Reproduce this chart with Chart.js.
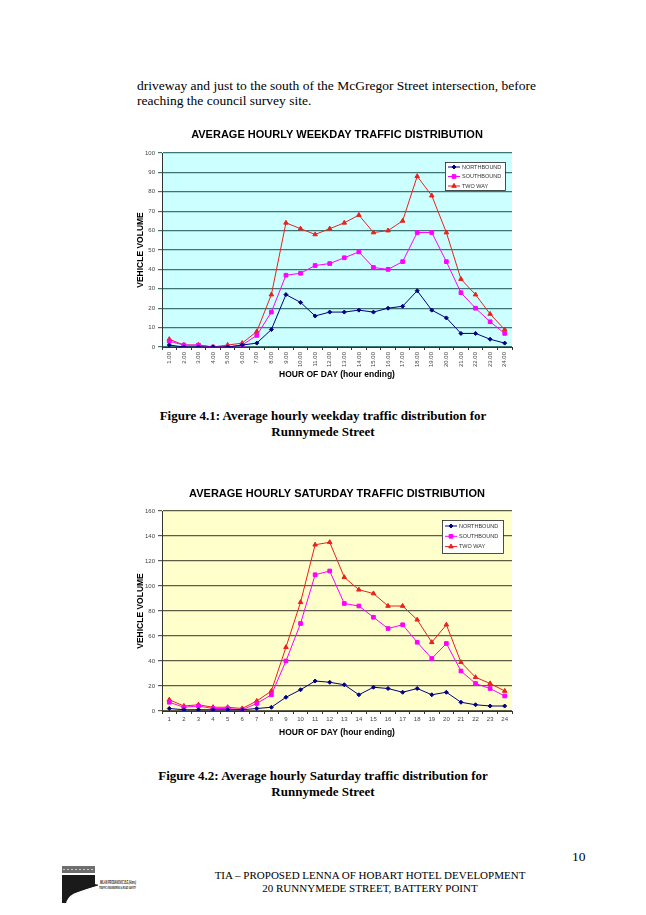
<!DOCTYPE html>
<html>
<head>
<meta charset="utf-8">
<script src="https://cdn.jsdelivr.net/npm/chart.js@4.4.0/dist/chart.umd.min.js"></script>
<style>
    body { margin: 0; background: #fff; }
    .page { position: relative; width: 646px; height: 915px; background: #fff; overflow: hidden; font-family: "Liberation Serif", "DejaVu Serif", serif; color: #000; }
    .txt { position: absolute; white-space: nowrap; }
    .body { left: 137px; top: 78px; font-size: 13.5px; line-height: 15px; }
    .cap { left: 0; width: 646px; text-align: center; font-weight: bold; font-size: 13px; line-height: 16px; }
    .foot { left: 130px; width: 480px; text-align: center; font-size: 11px; line-height: 13px; top: 869px; }
    .pnum { left: 572px; top: 849px; font-size: 13.5px; }
    .chartbox { position: absolute; left: 120px; width: 400px; }
</style>
</head>
<body>
<div class="page">
    <div class="txt body">driveway and just to the south of the McGregor Street intersection, before<br>reaching the council survey site.</div>

    <div class="chartbox" style="top:118px;height:265px;"><canvas id="weekday-chart"></canvas></div>
    <div class="txt cap" style="top:408px;">Figure 4.1: Average hourly weekday traffic distribution for<br>Runnymede Street</div>

    <div class="chartbox" style="top:477px;height:264px;"><canvas id="saturday-chart"></canvas></div>
    <div class="txt cap" style="top:768px;">Figure 4.2: Average hourly Saturday traffic distribution for<br>Runnymede Street</div>

    <div class="txt pnum">10</div>
    <svg style="position:absolute;left:58px;top:862px;" width="100" height="46">
        <rect x="4" y="4" width="33" height="7" fill="#6e6e6e"/>
        <line x1="5" y1="7.5" x2="36" y2="7.5" stroke="#ddd" stroke-width="0.8" stroke-dasharray="2 2"/>
        <path d="M4 13 L37 13 L37 22 L40 23 L20 30 Q10 36 8 41 L4 41 Z" fill="#1a1a1a"/>
        <path d="M6 41 Q10 31 22 28 L40 23" stroke="#1a1a1a" stroke-width="1.2" fill="none"/>
        <path d="M9 40 Q12 33 20 31" stroke="#fff" stroke-width="1.5" fill="none"/>
        <text x="42" y="22" font-family="Liberation Sans" font-size="4.6" font-weight="bold" font-style="italic" fill="#1a1a1a" textLength="36" lengthAdjust="spacingAndGlyphs">MILAN PRODANOVIC B.E.(Hons)</text>
        <text x="41" y="27" font-family="Liberation Sans" font-size="3.2" font-weight="bold" font-style="italic" fill="#1a1a1a" textLength="37" lengthAdjust="spacingAndGlyphs">TRAFFIC ENGINEERING &amp; ROAD SAFETY</text>
    </svg>
    <div class="txt foot">TIA – PROPOSED LENNA OF HOBART HOTEL DEVELOPMENT<br>20 RUNNYMEDE STREET, BATTERY POINT</div>
</div>

<script>
// hours of day (hour ending)
const weekdayHours = ['1.00','2.00','3.00','4.00','5.00','6.00','7.00','8.00','9.00','10.00','11.00','12.00',
    '13.00','14.00','15.00','16.00','17.00','18.00','19.00','20.00','21.00','22.00','23.00','24.00'];
const saturdayHours = ['1','2','3','4','5','6','7','8','9','10','11','12',
    '13','14','15','16','17','18','19','20','21','22','23','24'];

// weekday volumes
const weekdayNorth = [1, 0, 0, 0, 0, 1, 2, 9, 27, 23, 16, 18, 18, 19, 18, 20, 21, 29, 19, 15, 7, 7, 4, 2];
const weekdaySouth = [3, 1, 1, 0, 0, 1, 6, 18, 37, 38, 42, 43, 46, 49, 41, 40, 44, 59, 59, 44, 28, 20, 13, 7];
const weekdayTwoWay = [4, 1, 1, 0, 1, 2, 8, 27, 64, 61, 58, 61, 64, 68, 59, 60, 65, 88, 78, 59, 35, 27, 17, 9];

// saturday volumes
const saturdayNorth = [2, 1, 1, 1, 1, 1, 2, 3, 11, 17, 24, 23, 21, 13, 19, 18, 15, 18, 13, 15, 7, 5, 4, 4];
const saturdaySouth = [7, 3, 4, 2, 2, 1, 6, 13, 40, 70, 109, 112, 86, 84, 75, 66, 69, 55, 42, 54, 32, 22, 18, 12];
const saturdayTwoWay = [9, 4, 5, 3, 3, 2, 8, 16, 51, 87, 133, 135, 107, 97, 94, 84, 84, 73, 55, 69, 39, 27, 22, 16];

const SANS = '"Liberation Sans", Arial, sans-serif';

// fill plot area with a flat colour (Excel style)
const plotBackground = {
    id: 'plotBackground',
    beforeDraw(chart, args, opts) {
        const { ctx, chartArea } = chart;
        ctx.save();
        ctx.fillStyle = opts.color;
        ctx.fillRect(chartArea.left, chartArea.top, chartArea.right - chartArea.left, chartArea.bottom - chartArea.top);
        ctx.restore();
    }
};

// boxed legend inside the top right of the plot area
const boxLegend = {
    id: 'boxLegend',
    afterDatasetsDraw(chart, args, opts) {
        const { ctx, chartArea } = chart;
        const w = opts.width, h = opts.height;
        const x = chartArea.right - opts.right - w;
        const y = chartArea.top + opts.top;
        ctx.save();
        ctx.fillStyle = '#fff';
        ctx.fillRect(x, y, w, h);
        ctx.strokeStyle = '#222';
        ctx.lineWidth = 0.8;
        ctx.strokeRect(x + 0.5, y + 0.5, w, h);
        ctx.font = '5.5px ' + SANS;
        ctx.textBaseline = 'middle';
        chart.data.datasets.forEach((ds, i) => {
            const ry = y + opts.first + i * opts.row;
            ctx.strokeStyle = ds.borderColor;
            ctx.fillStyle = ds.borderColor;
            ctx.lineWidth = 1;
            ctx.beginPath();
            ctx.moveTo(x + 3, ry);
            ctx.lineTo(x + 15, ry);
            ctx.stroke();
            Chart.helpers.drawPoint(ctx, {
                pointStyle: ds.pointStyle, radius: ds.pointRadius, borderWidth: 1
            }, x + 9, ry);
            ctx.fillStyle = '#333';
            ctx.fillText(ds.label, x + 17, ry);
        });
        ctx.restore();
    }
};

function makeDatasets(north, south, two) {
    const base = { borderWidth: 1, tension: 0 };
    return [
        { ...base, label: 'NORTHBOUND', data: north, borderColor: '#000080', backgroundColor: '#000080',
          pointStyle: 'rectRot', pointRadius: 2, pointBorderWidth: 1 },
        { ...base, label: 'SOUTHBOUND', data: south, borderColor: '#ff00ff', backgroundColor: '#ff00ff',
          pointStyle: 'rect', pointRadius: 2.6, pointBorderWidth: 1 },
        { ...base, label: 'TWO WAY', data: two, borderColor: '#e8221e', backgroundColor: '#e8221e',
          pointStyle: 'triangle', pointRadius: 2.6, pointBorderWidth: 1 }
    ];
}

function renderChart(id, cfg) {
    const ctx = document.getElementById(id).getContext('2d');
    return new Chart(ctx, {
        type: 'line',
        data: {
            labels: cfg.labels,
            datasets: makeDatasets(cfg.north, cfg.south, cfg.two)
        },
        options: {
            responsive: true,
            maintainAspectRatio: false,
            animation: false,
            layout: { padding: { left: 14, right: 8, top: 0, bottom: 0 } },
            plugins: {
                legend: { display: false },
                tooltip: { enabled: false },
                title: {
                    display: true,
                    fullSize: false,
                    text: cfg.title,
                    color: '#000',
                    font: { family: SANS, size: 11, weight: 'bold' },
                    padding: { top: 10, bottom: cfg.titleGap }
                },
                plotBackground: { color: cfg.bg },
                boxLegend: cfg.legend
            },
            scales: {
                x: {
                    offset: true,
                    afterFit: (scale) => { scale.height = cfg.xHeight; },
                    grid: { offset: true, drawOnChartArea: false, drawTicks: true, tickLength: 3, color: '#333' },
                    border: { color: '#333', width: 1 },
                    ticks: {
                        autoSkip: false,
                        minRotation: cfg.rotate, maxRotation: cfg.rotate,
                        padding: 2,
                        color: '#444',
                        font: { family: SANS, size: 6 }
                    },
                    title: {
                        display: true,
                        text: 'HOUR OF DAY (hour ending)',
                        color: '#000',
                        font: { family: SANS, size: 8.5, weight: 'bold' },
                        padding: { top: 0, bottom: 3 }
                    }
                },
                y: {
                    min: 0,
                    max: cfg.max,
                    afterFit: (scale) => { scale.width = 28; },
                    grid: { color: cfg.gridColor, lineWidth: 1.2, tickLength: 4 },
                    border: { color: '#333', width: 1 },
                    ticks: {
                        stepSize: cfg.step,
                        padding: 3,
                        color: '#444',
                        font: { family: SANS, size: 6 }
                    },
                    title: {
                        display: true,
                        text: 'VEHICLE VOLUME',
                        color: '#000',
                        font: { family: SANS, size: 8.5, weight: 'bold' },
                        padding: { top: 2, bottom: 0 }
                    }
                }
            }
        },
        plugins: [plotBackground, boxLegend]
    });
}

renderChart('weekday-chart', {
    title: 'AVERAGE HOURLY WEEKDAY TRAFFIC DISTRIBUTION',
    labels: weekdayHours,
    north: weekdayNorth, south: weekdaySouth, two: weekdayTwoWay,
    max: 100, step: 10, rotate: 90,
    bg: '#ccffff', gridColor: '#3d7474',
    titleGap: 11.8, xHeight: 36,
    legend: { width: 60, height: 28, right: 7, top: 9, first: 5, row: 9.5 }
});

renderChart('saturday-chart', {
    title: 'AVERAGE HOURLY SATURDAY TRAFFIC DISTRIBUTION',
    labels: saturdayHours,
    north: saturdayNorth, south: saturdaySouth, two: saturdayTwoWay,
    max: 160, step: 20, rotate: 0,
    bg: '#ffffcc', gridColor: '#5e5e48',
    titleGap: 10.8, xHeight: 30,
    legend: { width: 61, height: 33, right: 9, top: 9, first: 6, row: 10.3 }
});
</script>
</body>
</html>
